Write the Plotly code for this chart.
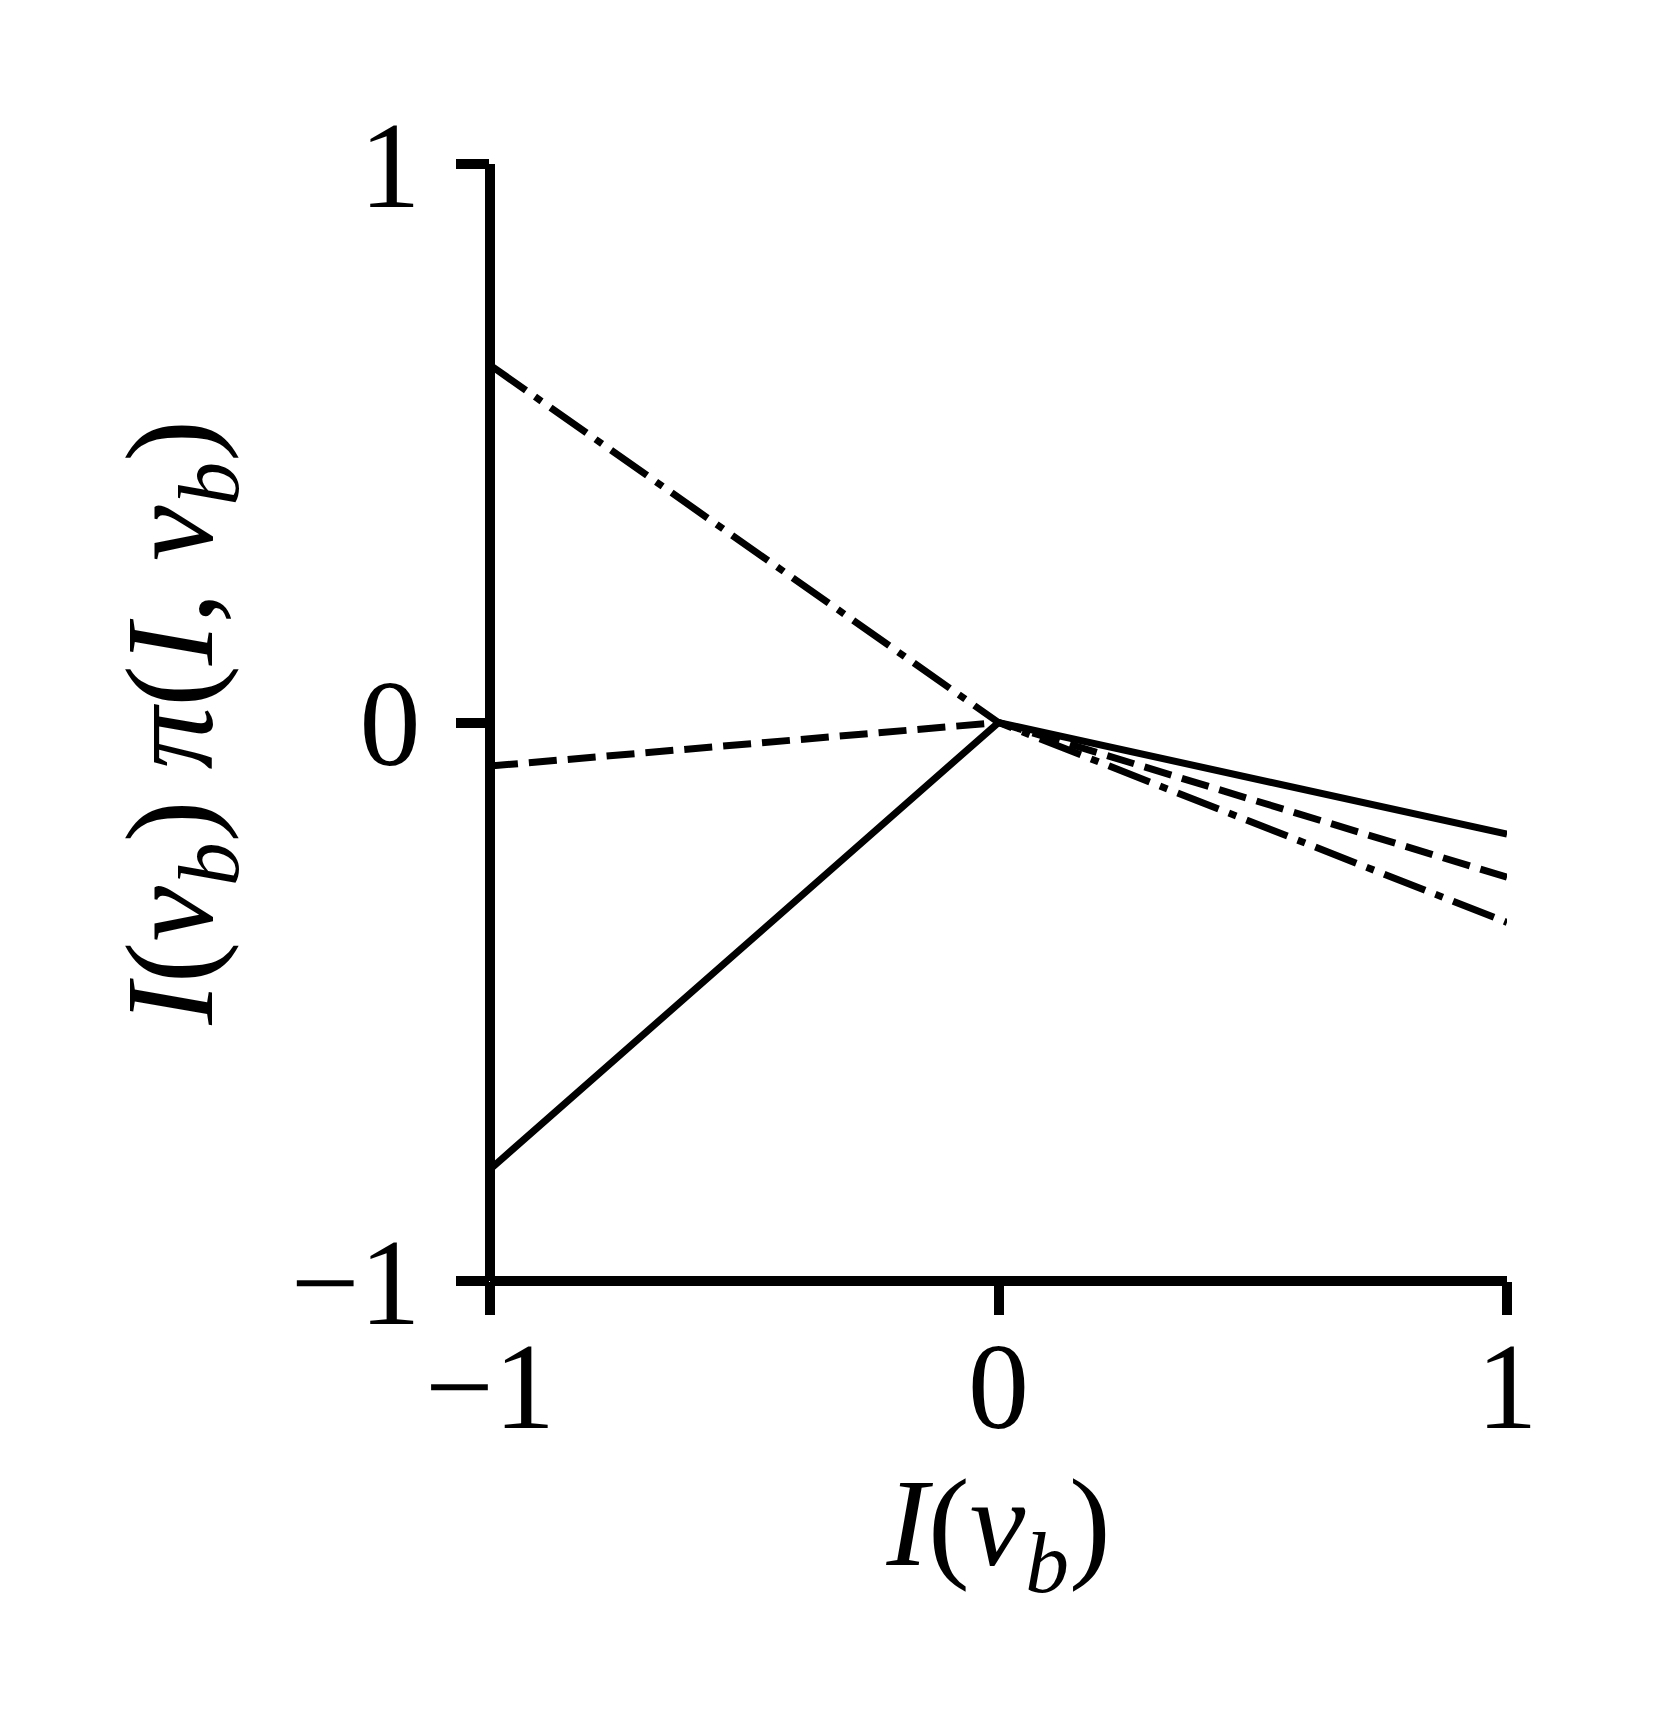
import plotly.graph_objects as go

x_vals = [-1.0, 0.0, 1.0]
solid_y = [-0.80, 0.0, -0.20]
dashed_y = [-0.078, 0.0, -0.277]
dashdot_y = [0.64, 0.0, -0.358]

tick_vals = [-1, 0, 1]
tick_text = ["\u22121", "0", "1"]

FONT = "Liberation Serif"
SPINE_W = 10

fig = go.Figure()
fig.add_trace(go.Scatter(x=x_vals, y=solid_y, mode="lines",
                         line=dict(color="black", width=7), showlegend=False))
fig.add_trace(go.Scatter(x=x_vals, y=dashed_y, mode="lines",
                         line=dict(color="black", width=7, dash="28px,11px"), showlegend=False))
fig.add_trace(go.Scatter(x=x_vals, y=dashdot_y, mode="lines",
                         line=dict(color="black", width=7, dash="44px,11px,8px,11px"), showlegend=False))

axis_common = dict(
    range=[-1, 1], tickvals=tick_vals, ticktext=tick_text,
    showgrid=False, zeroline=False, showline=False,
    ticks="outside", ticklen=33, tickwidth=SPINE_W, tickcolor="black",
    tickfont=dict(family=FONT, size=122, color="black"),
    fixedrange=True,
)

# spines centred on the plot-area edges (matplotlib style)
fig.add_shape(type="line", xref="paper", yref="paper", x0=0, x1=0, y0=0, y1=1,
              line=dict(color="black", width=SPINE_W))
fig.add_shape(type="line", xref="paper", yref="paper", x0=0, x1=1, y0=0, y1=0,
              line=dict(color="black", width=SPINE_W))

# page body has an 8px margin; compensate so the plot area sits where the reference has it
fig.update_layout(
    width=1643, height=1712,
    margin=dict(l=482, r=144, t=156, b=439),
    paper_bgcolor="white", plot_bgcolor="white",
    xaxis=dict(**axis_common, ticklabelstandoff=-33,
               title=dict(text="<i>I</i>(<i>v</i><sub><i>b</i></sub>)",
                          font=dict(family=FONT, size=125, color="black"), standoff=24)),
    yaxis=dict(**axis_common, ticklabelstandoff=11,
               title=dict(text="<i>I</i>(<i>v</i><sub><i>b</i></sub>) <i>\u03c0</i>(<i>I</i>, <i>v</i><sub><i>b</i></sub>)",
                          font=dict(family=FONT, size=125, color="black"), standoff=36)),
)

fig.write_html("out.html")
